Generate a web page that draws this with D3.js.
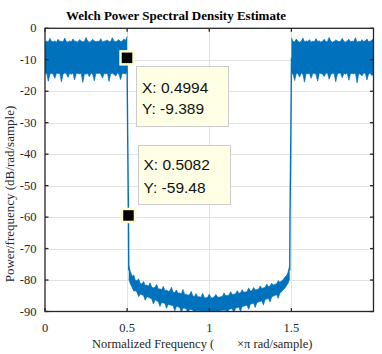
<!DOCTYPE html>
<html>
<head>
<meta charset="utf-8">
<script src="https://cdn.jsdelivr.net/npm/d3@7"></script>
<style>
  html, body { margin: 0; padding: 0; background: #ffffff; }
  svg { display: block; }
</style>
</head>
<body>
<div id="chart"></div>
<script>
// ---------------- DATA ----------------
const xTickValues = [0, 0.5, 1, 1.5];
const xTickLabels = ["0", "0.5", "1", "1.5"];
const yTickValues = [0, -10, -20, -30, -40, -50, -60, -70, -80, -90];
const yTickLabels = ["0", "-10", "-20", "-30", "-40", "-50", "-60", "-70", "-80", "-90"];

// Lower passband 0 ... 0.5 (normalized freq step 0.01): band envelope in dB
const pass1Start = 0, pass1Step = 0.01;
const pass1Upper = [-4.3,-4.1,-4.4,-3.2,-4.2,-4.3,-4.0,-4.4,-3.5,-4.2,-4.1,-4.3,-3.1,-4.2,-4.4,-4.0,-4.3,-3.4,-4.1,-4.2,-4.4,-3.6,-4.0,-4.3,-4.2,-2.9,-4.1,-4.4,-4.2,-3.5,-4.0,-4.3,-4.1,-4.2,-3.3,-4.4,-4.1,-4.0,-3.7,-4.3,-4.2,-3.0,-4.1,-4.3,-4.0,-3.6,-4.2,-4.1,-3.4,-3.9,-2.6];
const pass1Lower = [-14.4,-14.2,-16.8,-14.5,-14.3,-14.6,-15.9,-14.2,-14.4,-14.3,-17.0,-14.5,-14.2,-14.4,-15.6,-14.3,-14.6,-14.2,-16.4,-14.4,-14.3,-14.5,-14.2,-17.2,-14.4,-14.6,-14.3,-15.4,-14.2,-14.5,-16.7,-14.3,-14.4,-14.2,-14.6,-15.8,-14.3,-14.5,-14.2,-16.9,-14.4,-14.3,-14.6,-15.2,-14.2,-14.5,-16.3,-14.4,-14.3,-14.5,-14.0];

// Stopband 0.51 ... 1.49 (step 0.01): band envelope in dB
const stopStart = 0.51, stopStep = 0.01;
const stopUpper = [
  -75.5,-77.3,-78.8,-78.4,-80.1,-80.2,-79.6,-81.1,-81.3,-80.5,
  -81.7,-81.6,-82.0,-80.9,-82.3,-82.5,-82.3,-81.4,-82.9,-82.8,
  -83.1,-82.0,-83.4,-83.2,-83.6,-83.5,-82.3,-83.9,-84.0,-83.2,
  -84.2,-84.1,-84.4,-83.0,-84.6,-84.5,-84.8,-84.7,-83.6,-85.1,
  -85.2,-84.3,-85.4,-85.3,-85.5,-84.2,-85.6,-85.7,-85.5,-84.5,
  -85.6,-85.7,-85.4,-84.6,-85.4,-85.5,-85.3,-85.2,-84.1,-85.0,
  -84.9,-84.8,-83.7,-84.6,-84.5,-84.4,-83.4,-84.2,-84.1,-83.1,
  -83.9,-83.8,-83.7,-82.5,-83.5,-83.4,-82.4,-83.2,-83.0,-82.9,
  -81.9,-82.7,-82.5,-82.4,-81.3,-82.1,-81.9,-81.0,-81.6,-81.4,
  -81.2,-80.2,-80.7,-80.3,-79.9,-79.1,-78.6,-77.5,-75.3];
const stopLower = [
  -79.6,-81.3,-82.3,-83.5,-83.4,-83.8,-85.3,-84.4,-84.7,-84.9,
  -86.4,-85.3,-85.5,-85.7,-86.0,-87.6,-86.3,-86.6,-86.8,-88.4,
  -87.1,-87.3,-87.4,-89.0,-87.7,-87.9,-88.0,-88.2,-89.8,-88.4,
  -88.5,-88.7,-90.2,-88.9,-89.0,-89.1,-90.6,-89.3,-89.4,-89.5,
  -91.0,-89.7,-89.7,-89.8,-89.9,-91.2,-90.0,-90.0,-90.1,-90.1,
  -90.1,-91.3,-90.0,-89.9,-89.9,-91.0,-89.7,-89.6,-89.6,-89.5,
  -90.8,-89.3,-89.2,-89.1,-90.4,-88.9,-88.8,-88.6,-90.0,-88.4,
  -88.3,-88.1,-88.0,-89.3,-87.7,-87.5,-87.4,-88.7,-87.1,-87.0,
  -86.8,-86.6,-87.9,-86.2,-86.0,-85.8,-87.0,-85.4,-85.1,-84.9,
  -84.6,-85.8,-84.1,-83.7,-83.2,-82.6,-81.8,-81.0,-79.5];

// Upper passband 1.5 ... 2.0 (step 0.01)
const pass2Start = 1.5, pass2Step = 0.01;
const pass2Upper = [-3.0,-4.2,-4.3,-3.4,-4.1,-4.4,-4.2,-3.1,-4.3,-4.0,-4.2,-3.6,-4.4,-4.1,-4.3,-3.3,-4.2,-4.0,-4.4,-4.1,-3.5,-4.3,-4.2,-2.9,-4.1,-4.4,-4.2,-3.7,-4.0,-4.3,-4.1,-3.2,-4.2,-4.4,-4.0,-3.5,-4.3,-4.1,-4.2,-3.0,-4.4,-4.1,-4.3,-3.6,-4.2,-4.0,-3.4,-4.3,-4.1,-3.8,-3.3];
const pass2Lower = [-14.2,-14.5,-16.6,-14.3,-14.4,-15.5,-14.2,-14.6,-17.1,-14.3,-14.5,-14.2,-15.9,-14.4,-14.3,-14.6,-16.8,-14.2,-14.4,-14.5,-15.3,-14.3,-14.2,-16.2,-14.6,-14.4,-14.3,-17.0,-14.5,-14.2,-14.4,-15.7,-14.3,-14.6,-14.2,-16.5,-14.4,-14.3,-14.5,-14.2,-17.3,-14.4,-14.6,-15.1,-14.3,-14.2,-16.4,-14.5,-14.3,-15.0,-14.6];

// Transition edges
const edgeLeftX  = [0.4994, 0.5035, 0.5082, 0.5100];
const edgeLeftY  = [-9.389, -35, -59.48, -77];
const edgeRightX = [1.4900, 1.4918, 1.4965, 1.5006];
const edgeRightY = [-77, -59.5, -35, -9.4];

// Data tips
const tipX = [0.4994, 0.5082];
const tipY = [-9.389, -59.48];
const tipLabels = [["X: 0.4994", "Y: -9.389"], ["X: 0.5082", "Y: -59.48"]];

// ---------------- LAYOUT ----------------
const W = 382, H = 354;
const plot = { left: 45, right: 373.5, top: 28.3, bottom: 311.5 };
const blue = "#0072BD";
const axisColor = "#262626";
const serif = "'Liberation Serif', 'Times New Roman', serif";
const sans = "'Liberation Sans', Arial, Helvetica, sans-serif";

const svg = d3.select("#chart").append("svg").attr("width", W).attr("height", H);

const x = d3.scaleLinear().domain([0, 2]).range([plot.left, plot.right]);
const y = d3.scaleLinear().domain([-90, 0]).range([plot.bottom, plot.top]);

// clip
svg.append("clipPath").attr("id", "clip").append("rect")
  .attr("x", plot.left).attr("y", plot.top)
  .attr("width", plot.right - plot.left).attr("height", plot.bottom - plot.top);

// grid
const grid = svg.append("g");
grid.selectAll(".gx").data(xTickValues.filter(v => v > 0)).join("line")
  .attr("x1", d => Math.round(x(d)) + 0.5).attr("x2", d => Math.round(x(d)) + 0.5)
  .attr("y1", plot.top).attr("y2", plot.bottom)
  .attr("stroke", "#e3e3e3").attr("stroke-width", 1);
grid.selectAll(".gy").data(yTickValues.filter(v => v > -90 && v < 0)).join("line")
  .attr("y1", d => Math.round(y(d)) + 0.5).attr("y2", d => Math.round(y(d)) + 0.5)
  .attr("x1", plot.left).attr("x2", plot.right)
  .attr("stroke", "#e3e3e3").attr("stroke-width", 1);

// data
const dataG = svg.append("g").attr("clip-path", "url(#clip)");
function bandData(start, step, up, lo) {
  return up.map((u, i) => ({ f: start + i * step, u: u, l: lo[i] }));
}
const area = d3.area().x(d => x(d.f)).y0(d => y(d.l)).y1(d => y(d.u));
const lineU = d3.line().x(d => x(d.f)).y(d => y(d.u));
const lineL = d3.line().x(d => x(d.f)).y(d => y(d.l));
const bands = [
  bandData(pass1Start, pass1Step, pass1Upper, pass1Lower),
  bandData(stopStart, stopStep, stopUpper, stopLower),
  bandData(pass2Start, pass2Step, pass2Upper, pass2Lower)
];
bands.forEach(b => {
  dataG.append("path").attr("d", area(b)).attr("fill", blue);
  dataG.append("path").attr("d", lineU(b)).attr("fill", "none").attr("stroke", blue).attr("stroke-width", 0.7);
  dataG.append("path").attr("d", lineL(b)).attr("fill", "none").attr("stroke", blue).attr("stroke-width", 0.7);
});
const edgeLine = d3.line().x(d => x(d[0])).y(d => y(d[1]));
dataG.append("path").attr("d", edgeLine(edgeLeftX.map((v, i) => [v, edgeLeftY[i]])))
  .attr("fill", "none").attr("stroke", blue).attr("stroke-width", 1.4);
dataG.append("path").attr("d", edgeLine(edgeRightX.map((v, i) => [v, edgeRightY[i]])))
  .attr("fill", "none").attr("stroke", blue).attr("stroke-width", 1.4);

// axes box
const ax = svg.append("g").attr("stroke", axisColor).attr("stroke-width", 1.3).attr("fill", "none");
ax.append("rect").attr("x", plot.left).attr("y", plot.top)
  .attr("width", plot.right - plot.left).attr("height", plot.bottom - plot.top);
// ticks (inward)
const tl = 3.5;
xTickValues.forEach(v => {
  ax.append("line").attr("x1", x(v)).attr("x2", x(v)).attr("y1", plot.bottom).attr("y2", plot.bottom - tl);
  ax.append("line").attr("x1", x(v)).attr("x2", x(v)).attr("y1", plot.top).attr("y2", plot.top + tl);
});
yTickValues.forEach(v => {
  ax.append("line").attr("x1", plot.left).attr("x2", plot.left + tl).attr("y1", y(v)).attr("y2", y(v));
  ax.append("line").attr("x1", plot.right).attr("x2", plot.right - tl).attr("y1", y(v)).attr("y2", y(v));
});

// tick labels
svg.append("g").selectAll("text").data(xTickValues).join("text")
  .attr("x", d => x(d)).attr("y", 332)
  .attr("text-anchor", "middle")
  .attr("font-family", serif).attr("font-size", 12.5).attr("fill", axisColor)
  .text((d, i) => xTickLabels[i]);
svg.append("g").selectAll("text").data(yTickValues).join("text")
  .attr("x", 36.5).attr("y", d => y(d) + 4)
  .attr("text-anchor", "end")
  .attr("font-family", serif).attr("font-size", 12.5).attr("fill", axisColor)
  .text((d, i) => yTickLabels[i]);

// title
svg.append("text").attr("x", 176).attr("y", 20)
  .attr("text-anchor", "middle").attr("font-family", serif)
  .attr("font-weight", "bold").attr("font-size", 13).attr("fill", "#000")
  .text("Welch Power Spectral Density Estimate");

// axis labels
svg.append("text").attr("transform", "translate(14,194) rotate(-90)")
  .attr("text-anchor", "middle").attr("font-family", serif)
  .attr("font-size", 13).attr("fill", axisColor)
  .text("Power/frequency (dB/rad/sample)");
svg.append("text").attr("x", 92).attr("y", 348)
  .attr("font-family", serif).attr("font-size", 12.5).attr("fill", axisColor)
  .text("Normalized Frequency  (");
svg.append("text").attr("x", 237).attr("y", 348)
  .attr("font-family", serif).attr("font-size", 12.5).attr("fill", axisColor)
  .text("\u00D7\u03C0 rad/sample)");

// data tips
const boxes = [
  { bx: 136, by: 66, bw: 92, bh: 60, tx: 142, ty1: 93, ty2: 114 },
  { bx: 138, by: 145, bw: 92, bh: 59, tx: 143.5, ty1: 170, ty2: 192.5 }
];
boxes.forEach((b, i) => {
  svg.append("rect").attr("x", b.bx + 0.5).attr("y", b.by + 0.5)
    .attr("width", b.bw).attr("height", b.bh)
    .attr("fill", "#ffffe6").attr("stroke", "#cccccc").attr("stroke-width", 1);
  svg.append("text").attr("x", b.tx).attr("y", b.ty1)
    .attr("font-family", sans).attr("font-size", 15.5).attr("fill", "#111")
    .text(tipLabels[i][0]);
  svg.append("text").attr("x", b.tx).attr("y", b.ty2)
    .attr("font-family", sans).attr("font-size", 15.5).attr("fill", "#111")
    .text(tipLabels[i][1]);
});
tipX.forEach((v, i) => {
  svg.append("rect").attr("x", x(v) - 6.5).attr("y", y(tipY[i]) - 6.5)
    .attr("width", 13).attr("height", 13)
    .attr("fill", "#000").attr("stroke", "#fbfbcf").attr("stroke-width", 2.5);
});
</script>
</body>
</html>
